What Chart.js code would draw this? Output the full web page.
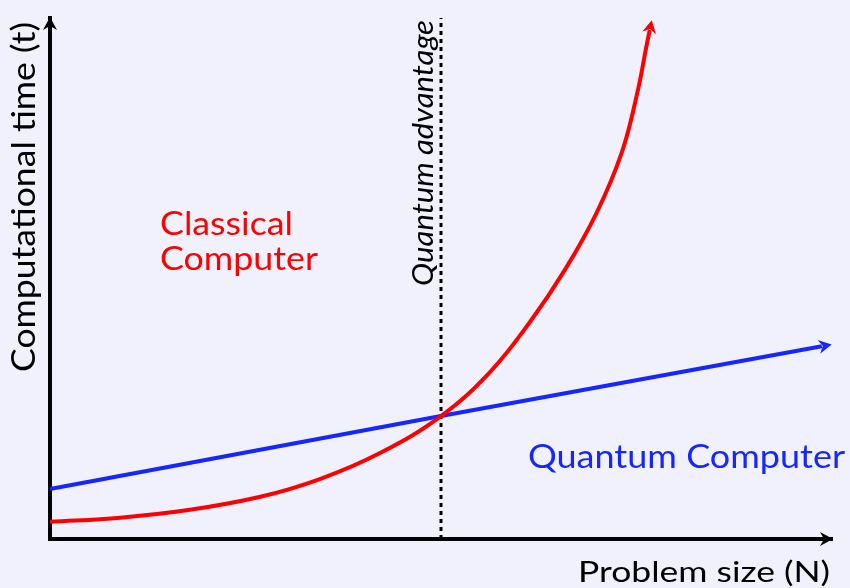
<!DOCTYPE html>
<html lang="en">
<head>
  <meta charset="UTF-8">
  <title>Quantum advantage</title>
  <style>
    body {
      margin: 0;
      background-color: #f1f1fd;
    }
    canvas {
      display: block;
    }
  </style>
</head>
<body>
  <canvas id="chart" width="850" height="588"></canvas>

  <script src="https://cdn.jsdelivr.net/npm/chart.js"></script>
  <script>
    // problem size N (x) / computational time t (y), arbitrary units 0..10
    const classicalN = [0, 0.90, 1.79, 2.69, 3.45, 4.22, 5.0, 5.63, 6.14, 6.59, 6.99, 7.31, 7.51, 7.63, 7.67];
    const classicalT = [0.33, 0.41, 0.56, 0.81, 1.15, 1.65, 2.36, 3.21, 4.17, 5.18, 6.26, 7.41, 8.56, 9.48, 9.77];
    const quantumN = [0, 5, 9.87];
    const quantumT = [0.96, 2.36, 3.70];
    const advantageN = 5;
    const advantageT = [0, 10];

    const RED = '#ff0000';
    const BLUE = '#1526ff';
    const FONT = 'Lato';

    function toPoints(xs, ys) {
      return xs.map((x, i) => ({ x, y: ys[i] }));
    }

    function arrowHead(ctx, x, y, angle, color) {
      ctx.save();
      ctx.translate(x, y);
      ctx.rotate(angle);
      ctx.fillStyle = color;
      ctx.beginPath();
      ctx.moveTo(0, 0);
      ctx.lineTo(-13, -7);
      ctx.lineTo(-9, 0);
      ctx.lineTo(-13, 7);
      ctx.closePath();
      ctx.fill();
      ctx.restore();
    }

    // text stretched to the width it has in the reference
    function fitText(ctx, txt, x, y, width, size, color, rotated, italic) {
      ctx.save();
      ctx.font = `${italic ? 'italic ' : ''}${size}px ${FONT}`;
      const w = ctx.measureText(txt).width;
      ctx.translate(x, y);
      if (rotated) ctx.rotate(-Math.PI / 2);
      ctx.scale(width / w, 1);
      ctx.fillStyle = color;
      ctx.textAlign = 'left';
      ctx.textBaseline = 'alphabetic';
      ctx.fillText(txt, 0, 0);
      ctx.restore();
    }

    const decorations = {
      id: 'decorations',
      afterDraw(chart) {
        const { ctx, chartArea } = chart;
        // axis arrows
        arrowHead(ctx, chartArea.left, chartArea.top - 1, -Math.PI / 2, '#000');
        arrowHead(ctx, chartArea.right + 1, chartArea.bottom, 0, '#000');

        // curve arrows, continuing the last segment
        [0, 1].forEach(i => {
          const pts = chart.getDatasetMeta(i).data;
          const a = pts[pts.length - 2], b = pts[pts.length - 1];
          const ang = Math.atan2(b.y - a.y, b.x - a.x);
          arrowHead(ctx, b.x + 10 * Math.cos(ang), b.y + 10 * Math.sin(ang), ang, chart.data.datasets[i].borderColor);
        });

        const xs = chart.scales.x;
        fitText(ctx, 'Classical', 160, 235, 133, 32, RED);
        fitText(ctx, 'Computer', 160, 270, 158, 32, RED);
        fitText(ctx, 'Quantum Computer', 528, 468, 317, 32, BLUE);
        fitText(ctx, 'Problem size (N)', 578, 582, 252, 28, '#000');
        fitText(ctx, 'Computational time (t)', 35, 372, 350, 33, '#000', true);
        fitText(ctx, 'Quantum advantage', xs.getPixelForValue(advantageN) - 8, 286, 266, 28, '#000', true, true);
      }
    };

    const axis = {
      type: 'linear',
      min: 0,
      max: 10,
      grid: { display: false, drawTicks: false },
      ticks: { display: false },
      border: { display: true, width: 4, color: '#000' }
    };

    new Chart(document.getElementById('chart'), {
      type: 'line',
      data: {
        datasets: [
          {
            label: 'Classical Computer',
            data: toPoints(classicalN, classicalT),
            borderColor: RED,
            borderWidth: 4,
            pointRadius: 0,
            tension: 0.4,
            clip: false
          },
          {
            label: 'Quantum Computer',
            data: toPoints(quantumN, quantumT),
            borderColor: BLUE,
            borderWidth: 4,
            pointRadius: 0,
            clip: false
          },
          {
            label: 'Quantum advantage',
            data: advantageT.map(t => ({ x: advantageN, y: t })),
            borderColor: '#000',
            borderWidth: 3,
            borderDash: [4, 4],
            pointRadius: 0,
            clip: false
          }
        ]
      },
      options: {
        responsive: false,
        animation: false,
        layout: { padding: { left: 50, right: 18, top: 18, bottom: 49 } },
        scales: { x: { ...axis }, y: { ...axis } },
        plugins: {
          legend: { display: false },
          tooltip: { enabled: false }
        }
      },
      plugins: [decorations]
    });
  </script>
</body>
</html>
